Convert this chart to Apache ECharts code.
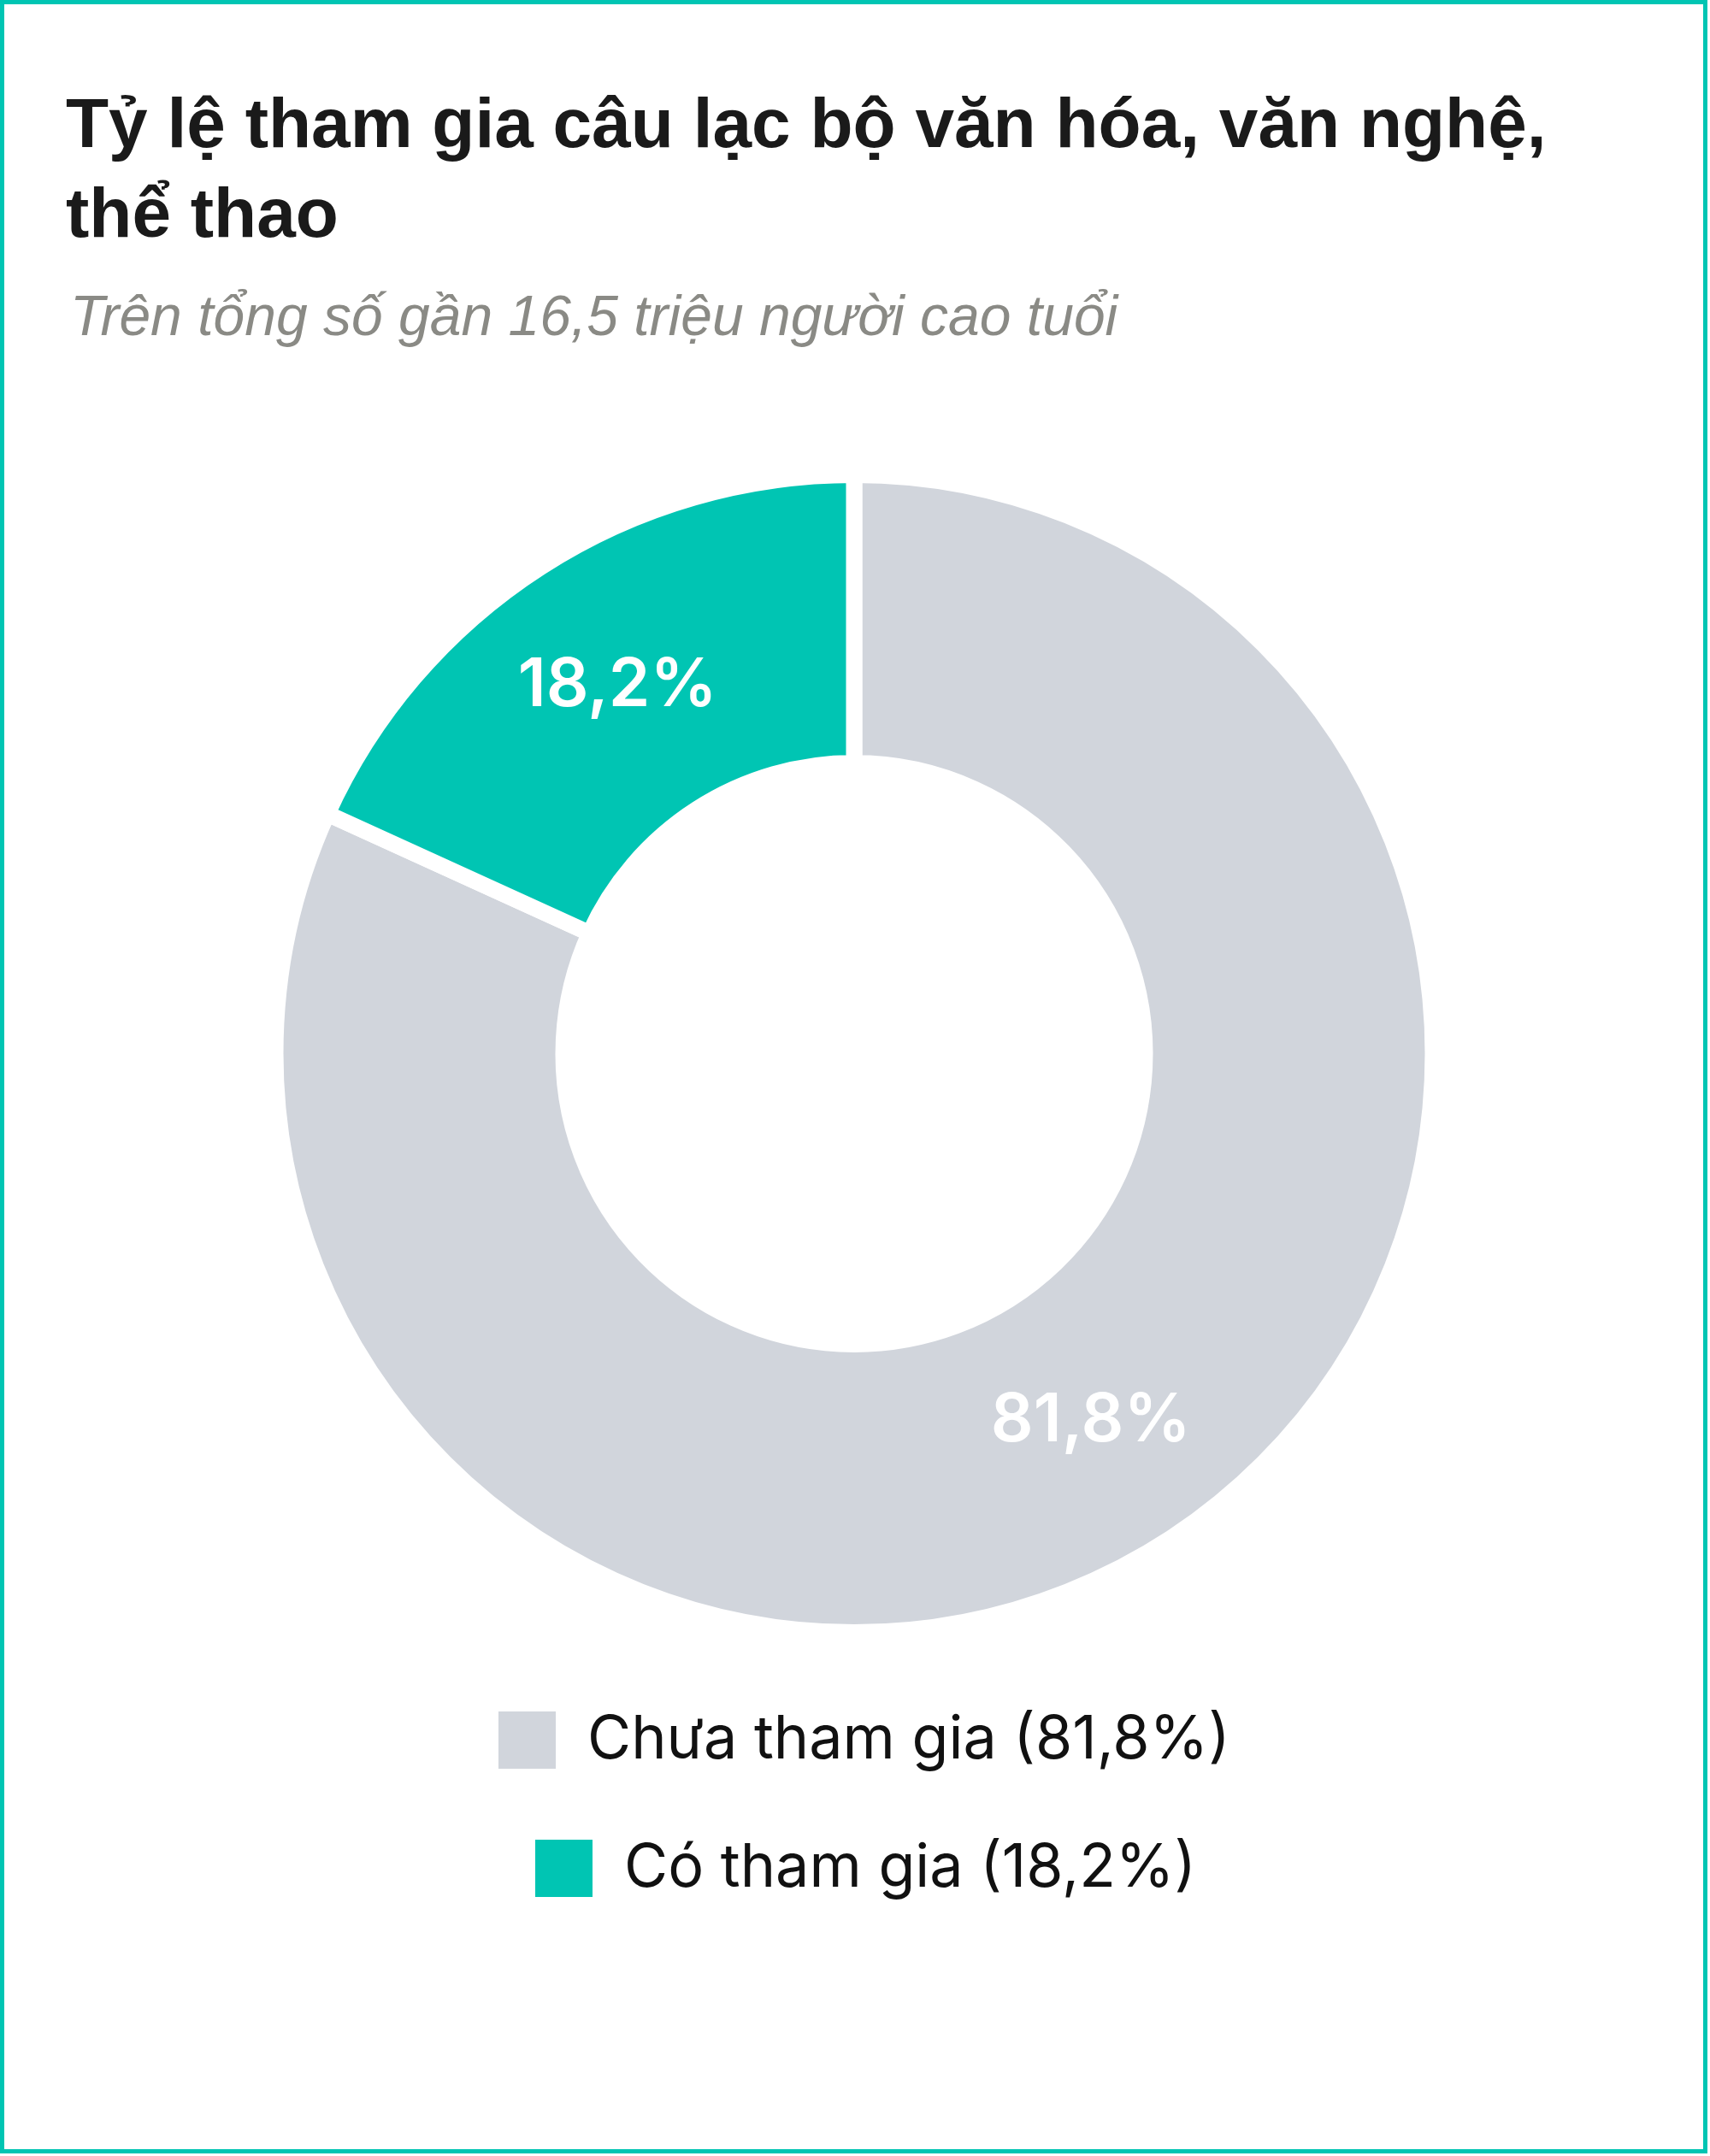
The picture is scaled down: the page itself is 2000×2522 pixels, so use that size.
<!DOCTYPE html>
<html>
<head>
<meta charset="utf-8">
<script src="https://cdn.jsdelivr.net/npm/echarts@6/dist/echarts.min.js"></script>
<style>
  html, body { margin: 0; padding: 0; background: #ffffff; }
  #chart { width: 2000px; height: 2522px; }
</style>
</head>
<body>
<div id="chart"></div>
<script>
const titleText = 'Tỷ lệ tham gia câu lạc bộ văn hóa, văn nghệ,\nthể thao';
const subtitleText = 'Trên tổng số gần 16,5 triệu người cao tuổi';
const categories = ['Chưa tham gia', 'Có tham gia'];
const values = [81.8, 18.2];
const colors = ['#d1d5dc', '#00c5b3'];

const fmt = v => String(v).replace('.', ',') + '%';

const chart = echarts.init(document.getElementById('chart'), null, { renderer: 'canvas' });

const legendLeft = [576, 619];
const legendTop = [1995, 2145];

const legends = categories.map((c, i) => ({
  data: [c],
  orient: 'horizontal',
  left: legendLeft[i],
  top: legendTop[i],
  icon: 'rect',
  itemWidth: 69,
  itemHeight: 69,
  selectedMode: false,
  formatter: name => name + ' (' + fmt(values[categories.indexOf(name)]) + ')',
  textStyle: {
    fontFamily: 'Inter',
    fontSize: 70,
    fontWeight: 400,
    color: '#111111',
    padding: [0, 0, 0, 31]
  }
}));

chart.setOption({
  backgroundColor: '#ffffff',
  animation: false,
  title: [
    {
      text: titleText,
      left: 72,
      top: 92,
      textStyle: {
        fontFamily: 'Liberation Sans',
        fontWeight: 'bold',
        fontSize: 82,
        lineHeight: 105,
        color: '#1a1a1a'
      }
    },
    {
      text: subtitleText,
      left: 77,
      top: 336,
      textStyle: {
        fontFamily: 'Liberation Sans',
        fontStyle: 'italic',
        fontWeight: 'normal',
        fontSize: 66,
        lineHeight: 66,
        color: '#8a8a85'
      }
    }
  ],
  graphic: [
    {
      type: 'rect',
      shape: { x: 2.5, y: 2.5, width: 1992, height: 2514 },
      style: { fill: 'none', stroke: '#00c5b3', lineWidth: 5 },
      silent: true
    }
  ],
  legend: legends,
  color: colors,
  series: [
    {
      type: 'pie',
      center: [999, 1232.5],
      radius: [340, 677],
      startAngle: 90,
      clockwise: true,
      silent: true,
      itemStyle: { borderColor: '#ffffff', borderWidth: 19 },
      label: {
        show: true,
        position: 'inside',
        formatter: p => fmt(p.value),
        fontFamily: 'Inter',
        fontWeight: 600,
        fontSize: 78,
        color: '#ffffff'
      },
      labelLine: { show: false },
      data: categories.map((c, i) => ({ name: c, value: values[i], itemStyle: { color: colors[i] } }))
    }
  ]
});
</script>
</body>
</html>
